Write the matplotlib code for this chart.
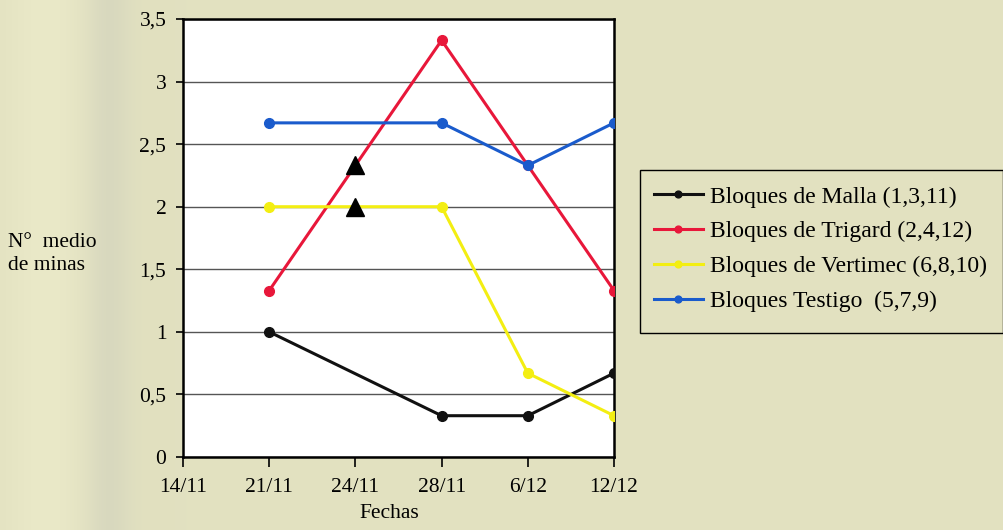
import numpy as np
import matplotlib
matplotlib.use("Agg")
import matplotlib.pyplot as plt
from matplotlib.patches import Rectangle
from matplotlib.ticker import FuncFormatter

# Fechas de muestreo (eje X categórico)
fechas = ["14/11", "21/11", "24/11", "28/11", "6/12", "12/12"]

# Nº medio de minas por tratamiento (None = sin muestreo)
malla    = [None, 1.00, None, 0.33, 0.33, 0.67]
trigard  = [None, 1.33, None, 3.33, 2.33, 1.33]
vertimec = [None, 2.00, None, 2.00, 0.67, 0.33]
testigo  = [None, 2.67, None, 2.67, 2.33, 2.67]

# Aplicaciones (triángulos) el 24/11
aplic_fecha = ["24/11", "24/11"]
aplic_valor = [2.33, 2.00]

series = [
    ("Bloques de Malla (1,3,11)", malla, "#111111"),
    ("Bloques de Trigard (2,4,12)", trigard, "#e8173a"),
    ("Bloques de Vertimec (6,8,10)", vertimec, "#f3ee12"),
    ("Bloques Testigo  (5,7,9)", testigo, "#1a5bcc"),
]

plt.rcParams["font.family"] = ["Liberation Serif", "DejaVu Serif"]

W, H = 1004, 530
fig = plt.figure(figsize=(W / 100, H / 100), dpi=100)

# Fondo de papel con una ligera banda más gris a la izquierda
bg_ax = fig.add_axes([0, 0, 1, 1], zorder=-10)
xs = np.arange(W)
base = np.array([226, 225, 192], dtype=float)
light = np.exp(-((xs - 45) / 40.0) ** 2)[:, None] * np.array([8, 8, 8])
dark = np.exp(-((xs - 108) / 22.0) ** 2)[:, None] * np.array([-10, -9, -2])
row = np.clip(base + light + dark, 0, 255) / 255.0
img = np.repeat(row[None, :, :], H, axis=0)
bg_ax.imshow(img, aspect="auto", extent=[0, 1, 0, 1])
bg_ax.set_axis_off()

ax = fig.add_axes([183 / W, 1 - 457 / H, 431 / W, 438 / H])
ax.set_facecolor("white")

pos = {f: i for i, f in enumerate(fechas)}

for label, vals, color in series:
    x = [i for i, v in enumerate(vals) if v is not None]
    y = [v for v in vals if v is not None]
    ax.plot(x, y, color=color, lw=2.2, marker="o", ms=7, label=label,
            solid_joinstyle="round", zorder=3)

ax.plot([pos[f] for f in aplic_fecha], aplic_valor, linestyle="none",
        marker="^", ms=13, color="black", zorder=4)

ax.set_xlim(0, len(fechas) - 1)
ax.set_ylim(0, 3.5)
ax.set_xticks(range(len(fechas)))
ax.set_xticklabels(fechas)
ax.set_yticks(np.arange(0, 3.51, 0.5))
ax.yaxis.set_major_formatter(FuncFormatter(
    lambda v, p: (f"{v:g}").replace(".", ",")))

ax.yaxis.grid(True, color="#555555", lw=1.0)
ax.set_axisbelow(True)
for s in ax.spines.values():
    s.set_color("black")
    s.set_linewidth(1.8)

ax.tick_params(axis="x", direction="out", length=7, width=1.2, pad=8,
               labelsize=15.5)
ax.tick_params(axis="y", direction="out", length=5, width=1.2, pad=7,
               labelsize=15.5)

fig.text(389 / W, 1 - 514 / H, "Fechas", ha="center", va="center",
         fontsize=15.5)
fig.text(8 / W, 1 - 254 / H, "N°  medio\nde minas", ha="left",
         va="center", fontsize=15.5, linespacing=1.25)

# Leyenda sin marco propio; el recuadro se dibuja aparte
leg = fig.legend(loc="upper left", bbox_to_anchor=(640 / W, 1 - 172 / H),
                 borderaxespad=0.0, frameon=False,
                 fontsize=17, handlelength=2.05, handletextpad=0.3,
                 labelspacing=0.56, borderpad=0.6, markerscale=0.7)
fig.add_artist(Rectangle((640 / W, 1 - 333 / H), 363 / W, 163 / H,
                         transform=fig.transFigure, fill=False,
                         edgecolor="black", linewidth=1.0))

fig.savefig("out.png", dpi=100)
